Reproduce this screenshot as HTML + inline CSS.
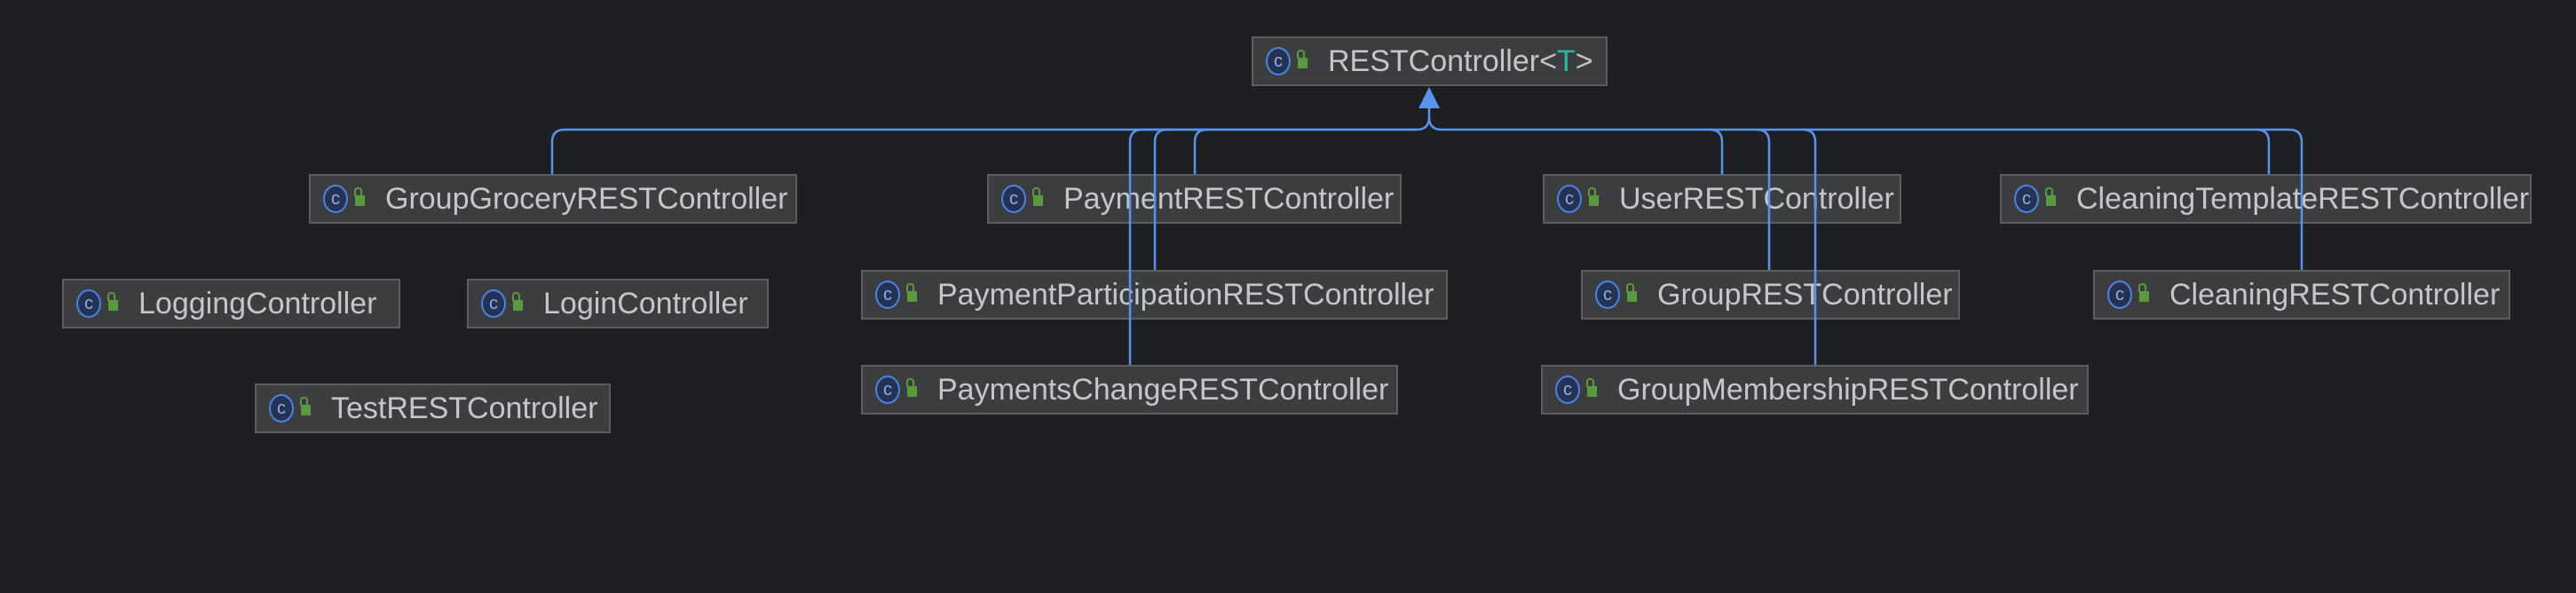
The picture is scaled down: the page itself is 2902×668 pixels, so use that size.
<!DOCTYPE html>
<html><head><style>
html,body{margin:0;padding:0;background:#1e1f22;}
body{width:2902px;height:668px;position:relative;overflow:hidden;font-family:"Liberation Sans",sans-serif;}
.b{position:absolute;box-sizing:border-box;background:#3c3d3f;border:2px solid #5b5d60;display:flex;align-items:center;color:#c3c6cb;font-size:34px;white-space:nowrap;}
.ic{position:absolute;left:14px;top:50%;margin-top:-16px;width:24px;height:28px;border:2.5px solid #4a83e6;border-radius:50%;color:#8fb0f0;font-size:20px;line-height:28px;text-align:center;background:#253252;}
.lk{position:absolute;left:50px;top:50%;margin-top:-4px;width:11px;height:12px;background:#5a9a3e;}
.lk:before{content:"";position:absolute;left:-1px;top:-9px;width:5px;height:8px;border:2px solid #5a9a3e;border-bottom:none;border-radius:4px 4px 0 0;}
.t{position:absolute;left:84px;}
svg{position:absolute;left:0;top:0;}
</style></head><body>
<div class="b" style="left:1410px;top:41px;width:401px;height:56px"><div class="ic">c</div><div class="lk"></div><div class="t">RESTController&lt;<span style="color:#2fb39a">T</span>&gt;</div></div>
<div class="b" style="left:348px;top:196px;width:550px;height:56px"><div class="ic">c</div><div class="lk"></div><div class="t">GroupGroceryRESTController</div></div>
<div class="b" style="left:1112px;top:196px;width:467px;height:56px"><div class="ic">c</div><div class="lk"></div><div class="t">PaymentRESTController</div></div>
<div class="b" style="left:1738px;top:196px;width:404px;height:56px"><div class="ic">c</div><div class="lk"></div><div class="t">UserRESTController</div></div>
<div class="b" style="left:2253px;top:196px;width:599px;height:56px"><div class="ic">c</div><div class="lk"></div><div class="t">CleaningTemplateRESTController</div></div>
<div class="b" style="left:70px;top:314px;width:381px;height:56px"><div class="ic">c</div><div class="lk"></div><div class="t">LoggingController</div></div>
<div class="b" style="left:526px;top:314px;width:340px;height:56px"><div class="ic">c</div><div class="lk"></div><div class="t">LoginController</div></div>
<div class="b" style="left:970px;top:304px;width:661px;height:56px"><div class="ic">c</div><div class="lk"></div><div class="t">PaymentParticipationRESTController</div></div>
<div class="b" style="left:1781px;top:304px;width:427px;height:56px"><div class="ic">c</div><div class="lk"></div><div class="t">GroupRESTController</div></div>
<div class="b" style="left:2358px;top:304px;width:470px;height:56px"><div class="ic">c</div><div class="lk"></div><div class="t">CleaningRESTController</div></div>
<div class="b" style="left:287px;top:432px;width:401px;height:56px"><div class="ic">c</div><div class="lk"></div><div class="t">TestRESTController</div></div>
<div class="b" style="left:970px;top:411px;width:605px;height:56px"><div class="ic">c</div><div class="lk"></div><div class="t">PaymentsChangeRESTController</div></div>
<div class="b" style="left:1736px;top:411px;width:617px;height:56px"><div class="ic">c</div><div class="lk"></div><div class="t">GroupMembershipRESTController</div></div>
<svg width="2902" height="668" fill="none" stroke="#5894ee" stroke-width="2.5">
<path d="M622 196V160Q622 146 636 146H1596Q1610 146 1610 132"/>
<path d="M1273 411V160Q1273 146 1287 146H1596"/>
<path d="M1301 304V160Q1301 146 1315 146"/>
<path d="M1346 196V160Q1346 146 1360 146"/>
<path d="M1610 122V132Q1610 146 1624 146H2579Q2593 146 2593 160V304"/>
<path d="M1940 196V160Q1940 146 1926 146"/>
<path d="M1993 304V160Q1993 146 1979 146"/>
<path d="M2045 411V160Q2045 146 2031 146"/>
<path d="M2556 196V160Q2556 146 2542 146"/>
<polygon points="1610,98 1598,122 1622,122" fill="#5894ee" stroke="none"/>
</svg>
</body></html>
